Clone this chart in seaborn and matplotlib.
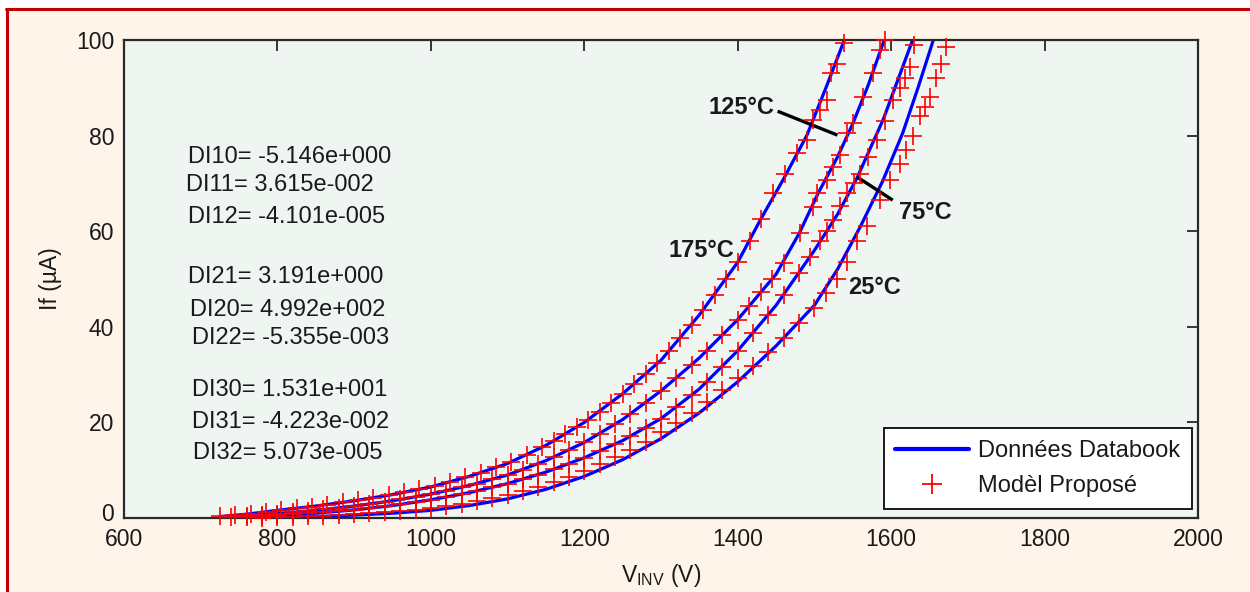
import matplotlib
matplotlib.use("Agg")
import numpy as np
import pandas as pd
import matplotlib.pyplot as plt
import seaborn as sns
from matplotlib.lines import Line2D
from matplotlib.patches import Rectangle
from matplotlib.transforms import ScaledTranslation

# ---- Databook curves (blue lines) ----
V175 = [725, 760, 800, 850, 900, 950, 1000, 1050, 1100, 1150, 1200, 1250, 1300, 1350, 1400, 1430, 1460, 1490, 1515, 1539]
I175 = [0.3, 0.8, 1.6, 2.5, 3.6, 4.9, 6.5, 8.7, 11.4, 15.2, 20.0, 26.0, 33.0, 42.5, 53.5, 62.5, 71.0, 80.0, 90.0, 100]

V125 = [740, 800, 850, 900, 950, 1000, 1050, 1100, 1150, 1200, 1250, 1300, 1350, 1400, 1450, 1480, 1505, 1530, 1550, 1570, 1591]
I125 = [0.2, 0.9, 1.6, 2.5, 3.6, 5.0, 6.8, 9.0, 12.0, 15.8, 20.6, 26.6, 33.5, 41.5, 51.0, 59.5, 68.0, 75.5, 82.5, 90.5, 100]

V75 = [760, 800, 850, 900, 950, 1000, 1050, 1100, 1150, 1200, 1250, 1300, 1350, 1400, 1450, 1500, 1530, 1556, 1590, 1628]
I75 = [0.1, 0.5, 1.0, 1.7, 2.6, 3.8, 5.3, 7.2, 9.6, 12.6, 16.2, 20.8, 27.0, 35.0, 44.5, 56.0, 63.5, 71.3, 83.5, 100]

V25 = [800, 850, 900, 950, 1000, 1050, 1100, 1150, 1200, 1250, 1300, 1350, 1400, 1450, 1500, 1530, 1560, 1589, 1615, 1635, 1655]
I25 = [0.1, 0.3, 0.6, 1.0, 1.6, 2.6, 4.0, 6.0, 8.7, 12.2, 16.6, 22.0, 28.5, 36.0, 44.5, 52.0, 61.0, 70.5, 80.5, 90.0, 100]

# ---- Proposed model points (red crosses) ----
MV175 = [725, 745, 765, 785, 805, 825, 845, 865, 885, 905, 925, 945, 965, 985, 1005, 1025, 1045, 1065, 1085, 1105,
         1125, 1145, 1160, 1175, 1190, 1205, 1220, 1235, 1250, 1265, 1280, 1295, 1310, 1325, 1340, 1355, 1370, 1385,
         1400, 1416, 1431, 1446, 1462, 1477, 1490, 1498, 1507, 1516, 1522, 1530, 1539]
MI175 = [0.4, 0.6, 0.9, 1.3, 1.7, 2.1, 2.4, 2.8, 3.3, 3.7, 4.2, 4.8, 5.4, 6.0, 6.7, 7.6, 8.5, 9.5, 10.6, 11.8,
         13.2, 14.8, 16.2, 17.6, 19.0, 20.6, 22.2, 24.1, 26.0, 28.0, 30.2, 32.4, 34.9, 37.6, 40.4, 43.5, 46.7, 50.0,
         53.5, 58.0, 62.5, 68.0, 72.0, 76.4, 79.0, 83.3, 85.4, 87.4, 93.0, 95.0, 99.4]

MV125 = [740, 760, 780, 800, 820, 840, 860, 880, 900, 920, 940, 960, 980, 1000, 1020, 1040, 1060, 1080, 1100, 1120,
         1140, 1160, 1180, 1200, 1220, 1240, 1260, 1280, 1300, 1320, 1340, 1360, 1380, 1400, 1415, 1430, 1445, 1460,
         1481, 1498, 1503, 1516, 1524, 1533, 1542, 1550, 1563, 1576, 1585, 1592]
MI125 = [0.3, 0.5, 0.7, 0.9, 1.2, 1.5, 1.8, 2.1, 2.5, 2.9, 3.4, 3.9, 4.4, 5.0, 5.7, 6.4, 7.2, 8.1, 9.0, 10.1,
         11.4, 12.7, 14.2, 15.8, 17.6, 19.6, 21.8, 24.1, 26.6, 29.2, 32.0, 35.0, 38.2, 41.5, 44.3, 47.2, 50.0, 53.3,
         59.6, 65.0, 68.0, 70.7, 73.4, 76.0, 80.5, 82.6, 88.0, 93.0, 98.0, 100]

MV75 = [760, 780, 800, 820, 840, 860, 880, 900, 920, 940, 960, 980, 1000, 1020, 1040, 1060, 1080, 1100, 1120, 1140,
        1160, 1180, 1200, 1220, 1240, 1260, 1280, 1300, 1320, 1340, 1360, 1380, 1400, 1420, 1440, 1460, 1480,
        1494, 1507, 1516, 1524, 1533, 1542, 1551, 1559, 1570, 1581, 1592, 1602, 1611, 1618, 1624, 1630]
MI75 = [0.2, 0.4, 0.6, 0.8, 0.95, 1.2, 1.45, 1.75, 2.1, 2.45, 2.9, 3.35, 3.85, 4.4, 5.0, 5.6, 6.4, 7.2, 8.1, 9.1,
        10.2, 11.4, 12.6, 14.0, 15.5, 17.1, 18.9, 20.8, 23.2, 25.7, 28.5, 31.6, 35.0, 38.7, 42.5, 46.7, 51.2,
        54.5, 58.0, 60.0, 62.3, 65.2, 68.0, 70.0, 72.0, 75.5, 79.0, 83.0, 87.4, 90.0, 92.0, 94.4, 99.0]

MV25 = [780, 800, 820, 840, 860, 880, 900, 920, 940, 960, 980, 1000, 1020, 1040, 1060, 1080, 1100, 1120, 1140, 1160,
        1180, 1200, 1220, 1240, 1260, 1280, 1300, 1320, 1340, 1360, 1380, 1400, 1420, 1440, 1460, 1480, 1500,
        1515, 1530, 1542, 1555, 1568, 1585, 1598, 1611, 1620, 1628, 1637, 1644, 1650, 1659, 1665, 1672]
MI25 = [0.1, 0.2, 0.3, 0.4, 0.5, 0.65, 0.8, 1.0, 1.2, 1.45, 1.75, 2.1, 2.5, 3.0, 3.5, 4.1, 4.8, 5.6, 6.5, 7.5,
        8.6, 9.8, 11.2, 12.7, 14.3, 16.0, 17.9, 19.9, 22.0, 24.3, 26.7, 29.2, 31.9, 34.7, 37.7, 40.8, 44.0,
        47.0, 50.0, 53.5, 58.0, 61.0, 66.5, 70.7, 74.0, 77.0, 80.0, 84.0, 86.0, 88.0, 92.0, 95.0, 98.5]

TEMPS = ["175°C", "125°C", "75°C", "25°C"]
X_TICKS = [600, 800, 1000, 1200, 1400, 1600, 1800, 2000]
Y_TICKS = [0, 20, 40, 60, 80, 100]

COEFFS = ["DI10= -5.146e+000", "DI11= 3.615e-002", "DI12= -4.101e-005",
          "DI21= 3.191e+000", "DI20= 4.992e+002", "DI22= -5.355e-003",
          "DI30= 1.531e+001", "DI31= -4.223e-002", "DI32= 5.073e-005"]

data = pd.concat([
    pd.DataFrame({"V": v, "I": i, "T": t})
    for v, i, t in zip([V175, V125, V75, V25], [I175, I125, I75, I25], TEMPS)
], ignore_index=True)
model = pd.concat([
    pd.DataFrame({"V": v, "I": i, "T": t})
    for v, i, t in zip([MV175, MV125, MV75, MV25], [MI175, MI125, MI75, MI25], TEMPS)
], ignore_index=True)

sns.set_theme(style="white")
plt.rcParams["font.family"] = ["Liberation Sans", "DejaVu Sans"]
plt.rcParams["mathtext.default"] = "regular"

W, H = 1250, 592
fig = plt.figure(figsize=(W / 100, H / 100), dpi=100, facecolor="white")

# cream panel with red top/left border
fig.patches.append(Rectangle((7 / W, 0), 1, 1 - 9 / H, transform=fig.transFigure,
                             facecolor="#FEF4E9", edgecolor="none", zorder=-10))
fig.add_artist(Line2D([6 / W, 1], [1 - 9 / H, 1 - 9 / H], transform=fig.transFigure,
                      color="#C00000", lw=2.2))
fig.add_artist(Line2D([7 / W, 7 / W], [0, 1 - 9 / H], transform=fig.transFigure,
                      color="#C00000", lw=2.2))

ax = fig.add_axes([124 / W, 1 - 518 / H, 1074 / W, 478 / H])
ax.set_facecolor("#EFF5F1")

sns.lineplot(data=data, x="V", y="I", units="T", estimator=None, sort=False,
             color="#0000FF", lw=2.3, ax=ax, legend=False, zorder=2)
sns.scatterplot(data=model, x="V", y="I", marker="+", color="#FF0000", s=150,
                linewidth=1.2, ax=ax, legend=False, zorder=3, clip_on=False)

ax.set_xlim(600, 2000)
ax.set_ylim(0, 100)
ax.set_xticks(X_TICKS)
ax.set_yticks(Y_TICKS)
ax.tick_params(direction="in", length=8, width=1.3, top=True, right=True,
               labelsize=16.5, pad=7, colors="#262626", labelcolor="#1a1a1a")
for sp in ax.spines.values():
    sp.set_color("#2a2a2a")
    sp.set_linewidth(1.6)

ax.set_xlabel("V$_{INV}$ (V)", fontsize=16.5, color="#1a1a1a", labelpad=8)
ax.set_ylabel("If (µA)", fontsize=16.5, color="#1a1a1a", labelpad=10)

# lift the "0" y tick label a little so it clears the first x tick label
zero_lbl = ax.yaxis.get_major_ticks()[0].label1
zero_lbl.set_transform(zero_lbl.get_transform() + ScaledTranslation(0, 4 / 72, fig.dpi_scale_trans))

# coefficient block
coef_pos = [(188, 157), (186, 185), (188, 217), (188, 277), (190, 310),
            (192, 338), (192, 390), (192, 422), (193, 453)]
for txt, (px, py) in zip(COEFFS, coef_pos):
    ax.text((px - 124) / 1074, (518 - py) / 478, txt, transform=ax.transAxes,
            ha="left", va="center", fontsize=17, color="#1a1a1a")

# temperature labels
label_pos = {"175°C": (1352, 55.9), "125°C": (1405, 85.8), "75°C": (1644, 64.0), "25°C": (1578, 48.3)}
for t in TEMPS:
    x, y = label_pos[t]
    ax.text(x, y, t, ha="center", va="center", fontsize=17, fontweight="bold", color="#1a1a1a")
ax.plot([1452, 1530], [85.1, 80.1], color="black", lw=2.4, solid_capstyle="butt")
ax.plot([1556, 1602], [71.3, 66.5], color="black", lw=2.4, solid_capstyle="butt")

handles = [Line2D([], [], color="#0000FF", lw=3),
           Line2D([], [], color="#FF0000", marker="+", ls="none", markersize=14, markeredgewidth=1.3)]
leg = ax.legend(handles, ["Données Databook", "Modèl Proposé"], loc="lower right",
                bbox_to_anchor=(0.9944, 0.019), borderaxespad=0, fontsize=17,
                frameon=True, fancybox=False, framealpha=1, edgecolor="#1a1a1a",
                handlelength=3.1, handletextpad=0.4, borderpad=0.5, labelspacing=0.55)
leg.get_frame().set_linewidth(1.4)
leg.get_frame().set_facecolor("white")
for t in leg.get_texts():
    t.set_color("#1a1a1a")

fig.savefig("out.png", dpi=100, facecolor=fig.get_facecolor())
